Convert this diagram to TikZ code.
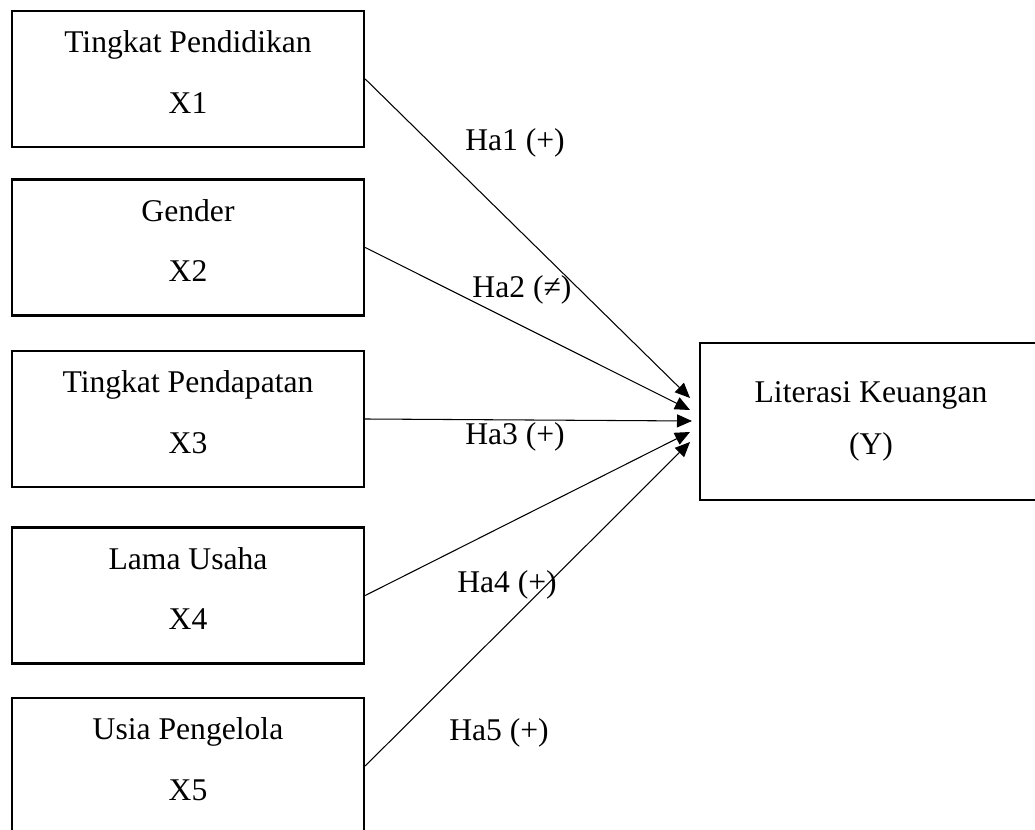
\documentclass[tikz,border=0pt]{standalone}
\usepackage{fontspec}
\setmainfont{Liberation Serif}
\usetikzlibrary{arrows.meta}
\def\varnode{\node[draw=black,line width=1.4pt,minimum width=7.04cm,minimum height=2.72cm,inner sep=0pt,align=center,text depth=8pt,font=\fontsize{18}{34.6}\selectfont]}
\def\depnode{\node[draw=black,line width=1.4pt,minimum width=6.84cm,minimum height=3.14cm,inner sep=0pt,align=center,font=\fontsize{18}{29.5}\selectfont]}
\def\hypnode{\node[inner sep=0pt,font=\fontsize{18}{21}\selectfont]}
\def\drawhyp{\draw[line width=0.6pt,-{Triangle[length=3mm,width=2.6mm]}]}

\begin{document}
\begin{tikzpicture}[x=0.02cm,y=-0.02cm]
\useasboundingbox (0,0) rectangle (1035,830);
\clip (0,0) rectangle (1035,830);
\varnode (x1) at (188,79) {Tingkat Pendidikan\\X1};
\varnode (x2) at (188,247.5) {Gender\\X2};
\varnode (x3) at (188,419) {Tingkat Pendapatan\\X3};
\varnode (x4) at (188,595.5) {Lama Usaha\\X4};
\varnode (x5) at (188,766) {Usia Pengelola\\X5};
\depnode (y) at (871,421.5) {Literasi Keuangan\\(Y)};
\coordinate (t1) at (690,398);
\coordinate (t2) at (690,410);
\coordinate (t3) at (692,421);
\coordinate (t4) at (690,432);
\coordinate (t5) at (690,442);
\drawhyp (x1.east) -- (t1);
\drawhyp (x2.east) -- (t2);
\drawhyp (x3.east) -- (t3);
\drawhyp (x4.east) -- (t4);
\drawhyp (x5.east) -- (t5);
\hypnode (h1) at (515,143) {Ha1 (+)};
\hypnode (h2) at (522,290) {Ha2 (≠)};
\hypnode (h3) at (515,437) {Ha3 (+)};
\hypnode (h4) at (507,585) {Ha4 (+)};
\hypnode (h5) at (499,733) {Ha5 (+)};
\end{tikzpicture}
\end{document}
